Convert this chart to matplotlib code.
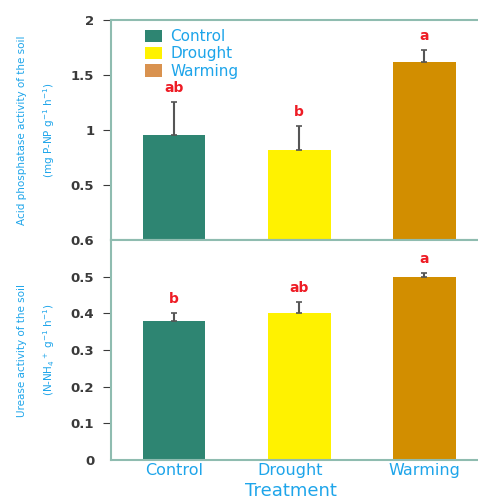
import matplotlib.pyplot as plt
from matplotlib.patches import Patch

treatments = ['Control', 'Drought', 'Warming']
colors = ['#2e8572', '#fff200', '#d28e00']
legend_colors = ['#2e8572', '#fff200', '#d9924f']

acp = [0.955, 0.82, 1.62]
acp_err = [0.30, 0.22, 0.11]
acp_letters = ['ab', 'b', 'a']

ure = [0.38, 0.40, 0.50]
ure_err = [0.02, 0.03, 0.01]
ure_letters = ['b', 'ab', 'a']

spine_col = '#8fbcb0'
blue = '#1ea5ea'
tick_col = '#3a3a3a'

fig = plt.figure(figsize=(4.78, 4.99), dpi=100)
ax1 = fig.add_axes([0.232, 0.519, 0.80, 0.441])
ax2 = fig.add_axes([0.232, 0.078, 0.80, 0.441])

x = [0, 1, 2]


def draw(ax, vals, errs, letters):
    ax.bar(x, vals, width=0.5, color=colors, zorder=2)
    ax.errorbar(x, vals, yerr=[[0, 0, 0], errs], fmt='none', ecolor='#555555',
                elinewidth=1.5, capsize=2.5, capthick=1.2, zorder=3)
    for xi, v, e, t in zip(x, vals, errs, letters):
        ax.annotate(t, (xi, v + e), xytext=(0, 5), textcoords='offset points',
                    ha='center', va='bottom', color='#ee1c25',
                    fontweight='bold', fontsize=10)
    ax.set_xlim(-0.504, 2.55)
    for s in ['top', 'bottom', 'left']:
        ax.spines[s].set_color(spine_col)
        ax.spines[s].set_linewidth(1.5)
    ax.spines['right'].set_visible(False)
    ax.tick_params(axis='y', direction='out', length=6, color=tick_col,
                   labelcolor=tick_col, labelsize=9.5, pad=6)


draw(ax1, acp, acp_err, acp_letters)
ax1.set_ylim(0, 2)
ax1.set_yticks([0, 0.5, 1, 1.5, 2])
ax1.set_yticklabels(['0.6', '0.5', '1', '1.5', '2'], fontweight='bold')
ax1.yaxis.get_major_ticks()[0].tick1line.set_visible(False)
ax1.set_xticks([])
ax1.set_ylabel('Acid phosphatase activity of the soil\n(mg P-NP g$^{-1}$ h$^{-1}$)',
               color=blue, fontsize=7.5, labelpad=10, linespacing=2.2)

handles = [Patch(facecolor=c, label=t) for c, t in zip(legend_colors, treatments)]
leg = ax1.legend(handles=handles, loc='upper left', bbox_to_anchor=(0.065, 1.0),
                 frameon=False, fontsize=11, handlelength=1.1, handleheight=0.85,
                 labelspacing=0.15, handletextpad=0.55, borderaxespad=0.2)
for t in leg.get_texts():
    t.set_color(blue)

draw(ax2, ure, ure_err, ure_letters)
ax2.set_ylim(0, 0.6)
ax2.set_yticks([0, 0.1, 0.2, 0.3, 0.4, 0.5])
ax2.set_yticklabels(['0', '0.1', '0.2', '0.3', '0.4', '0.5'], fontweight='bold')
ax2.yaxis.get_major_ticks()[0].tick1line.set_visible(False)
ax2.set_xticks([0, 0.93, 2])
ax2.set_xticklabels(treatments, color=blue, fontsize=11.5)
ax2.tick_params(axis='x', length=0, pad=2)
ax2.set_xlabel('Treatment', color=blue, fontsize=13)
ax2.xaxis.set_label_coords(0.47, -0.1)
ax2.set_ylabel('Urease activity of the soil\n(N-NH$_4$$^+$ g$^{-1}$ h$^{-1}$)',
               color=blue, fontsize=7.5, labelpad=10, linespacing=2.2)

fig.align_ylabels([ax1, ax2])
fig.savefig('out.png', dpi=100)
